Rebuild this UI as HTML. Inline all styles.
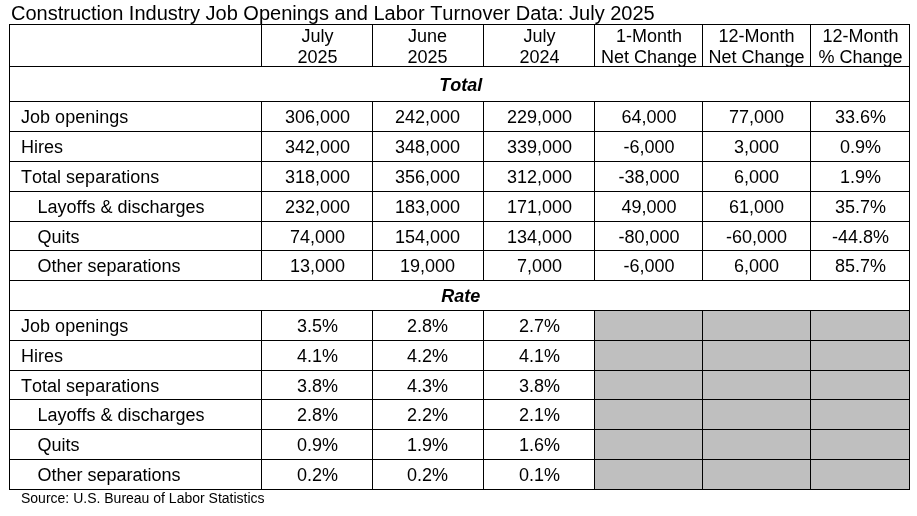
<!DOCTYPE html>
<html><head><meta charset="utf-8"><style>
html,body{margin:0;padding:0;background:#fff;}
body{width:917px;height:516px;position:relative;overflow:hidden;font-family:"Liberation Sans",sans-serif;color:#000;font-kerning:none;will-change:transform;}
.l{position:absolute;background:#000;}
.g{position:absolute;background:#bfbfbf;}
.c{position:absolute;display:flex;align-items:center;justify-content:center;font-size:18px;line-height:21px;white-space:nowrap;text-align:center;box-sizing:border-box;}
.bi{font-weight:bold;font-style:italic;}
.t{position:absolute;left:11px;top:0.5px;font-size:20px;line-height:24px;white-space:nowrap;}
.s{position:absolute;left:21px;top:489px;font-size:14px;line-height:18px;white-space:nowrap;}
</style></head><body>
<div class="t">Construction Industry Job Openings and Labor Turnover Data: July 2025</div>
<div class="g" style="left:594px;top:310px;width:315px;height:30px"></div>
<div class="g" style="left:594px;top:340px;width:315px;height:30px"></div>
<div class="g" style="left:594px;top:370px;width:315px;height:29px"></div>
<div class="g" style="left:594px;top:399px;width:315px;height:30px"></div>
<div class="g" style="left:594px;top:429px;width:315px;height:30px"></div>
<div class="g" style="left:594px;top:459px;width:315px;height:30px"></div>
<div class="l" style="left:9px;top:24px;width:901px;height:1px"></div>
<div class="l" style="left:9px;top:66px;width:901px;height:1px"></div>
<div class="l" style="left:9px;top:101px;width:901px;height:1px"></div>
<div class="l" style="left:9px;top:131px;width:901px;height:1px"></div>
<div class="l" style="left:9px;top:161px;width:901px;height:1px"></div>
<div class="l" style="left:9px;top:191px;width:901px;height:1px"></div>
<div class="l" style="left:9px;top:221px;width:901px;height:1px"></div>
<div class="l" style="left:9px;top:250px;width:901px;height:1px"></div>
<div class="l" style="left:9px;top:280px;width:901px;height:1px"></div>
<div class="l" style="left:9px;top:310px;width:901px;height:1px"></div>
<div class="l" style="left:9px;top:340px;width:901px;height:1px"></div>
<div class="l" style="left:9px;top:370px;width:901px;height:1px"></div>
<div class="l" style="left:9px;top:399px;width:901px;height:1px"></div>
<div class="l" style="left:9px;top:429px;width:901px;height:1px"></div>
<div class="l" style="left:9px;top:459px;width:901px;height:1px"></div>
<div class="l" style="left:9px;top:489px;width:901px;height:1px"></div>
<div class="l" style="left:9px;top:24px;width:1px;height:466px"></div>
<div class="l" style="left:909px;top:24px;width:1px;height:466px"></div>
<div class="l" style="left:261px;top:24px;width:1px;height:43px"></div>
<div class="l" style="left:261px;top:101px;width:1px;height:180px"></div>
<div class="l" style="left:261px;top:310px;width:1px;height:180px"></div>
<div class="l" style="left:372px;top:24px;width:1px;height:43px"></div>
<div class="l" style="left:372px;top:101px;width:1px;height:180px"></div>
<div class="l" style="left:372px;top:310px;width:1px;height:180px"></div>
<div class="l" style="left:483px;top:24px;width:1px;height:43px"></div>
<div class="l" style="left:483px;top:101px;width:1px;height:180px"></div>
<div class="l" style="left:483px;top:310px;width:1px;height:180px"></div>
<div class="l" style="left:594px;top:24px;width:1px;height:43px"></div>
<div class="l" style="left:594px;top:101px;width:1px;height:180px"></div>
<div class="l" style="left:594px;top:310px;width:1px;height:180px"></div>
<div class="l" style="left:702px;top:24px;width:1px;height:43px"></div>
<div class="l" style="left:702px;top:101px;width:1px;height:180px"></div>
<div class="l" style="left:702px;top:310px;width:1px;height:180px"></div>
<div class="l" style="left:810px;top:24px;width:1px;height:43px"></div>
<div class="l" style="left:810px;top:101px;width:1px;height:180px"></div>
<div class="l" style="left:810px;top:310px;width:1px;height:180px"></div>
<div class="c h" style="left:262.5px;top:26px;width:110px;height:41px;">July<br>2025</div>
<div class="c h" style="left:372.6px;top:26px;width:110px;height:41px;">June<br>2025</div>
<div class="c h" style="left:484.5px;top:26px;width:110px;height:41px;">July<br>2024</div>
<div class="c h" style="left:595.5px;top:26px;width:107px;height:41px;">1-Month<br>Net Change</div>
<div class="c h" style="left:703.0px;top:26px;width:107px;height:41px;">12-Month<br>Net Change</div>
<div class="c h" style="left:811.5px;top:26px;width:98px;height:41px;">12-Month<br>% Change</div>
<div class="c bi" style="left:11.3px;top:68px;width:899px;height:34px;">Total</div>
<div class="c bi" style="left:11.3px;top:282px;width:899px;height:29px;">Rate</div>
<div class="c " style="left:10.5px;top:103px;width:251px;height:29px;padding-left:10.6px;justify-content:flex-start;">Job openings</div>
<div class="c " style="left:262.5px;top:103px;width:110px;height:29px;">306,000</div>
<div class="c " style="left:372.6px;top:103px;width:110px;height:29px;">242,000</div>
<div class="c " style="left:484.5px;top:103px;width:110px;height:29px;">229,000</div>
<div class="c " style="left:595.5px;top:103px;width:107px;height:29px;">64,000</div>
<div class="c " style="left:703.0px;top:103px;width:107px;height:29px;">77,000</div>
<div class="c " style="left:811.5px;top:103px;width:98px;height:29px;">33.6%</div>
<div class="c " style="left:10.5px;top:133px;width:251px;height:29px;padding-left:10.6px;justify-content:flex-start;">Hires</div>
<div class="c " style="left:262.5px;top:133px;width:110px;height:29px;">342,000</div>
<div class="c " style="left:372.6px;top:133px;width:110px;height:29px;">348,000</div>
<div class="c " style="left:484.5px;top:133px;width:110px;height:29px;">339,000</div>
<div class="c " style="left:595.5px;top:133px;width:107px;height:29px;">-6,000</div>
<div class="c " style="left:703.0px;top:133px;width:107px;height:29px;">3,000</div>
<div class="c " style="left:811.5px;top:133px;width:98px;height:29px;">0.9%</div>
<div class="c " style="left:10.5px;top:163px;width:251px;height:29px;padding-left:10.6px;justify-content:flex-start;">Total separations</div>
<div class="c " style="left:262.5px;top:163px;width:110px;height:29px;">318,000</div>
<div class="c " style="left:372.6px;top:163px;width:110px;height:29px;">356,000</div>
<div class="c " style="left:484.5px;top:163px;width:110px;height:29px;">312,000</div>
<div class="c " style="left:595.5px;top:163px;width:107px;height:29px;">-38,000</div>
<div class="c " style="left:703.0px;top:163px;width:107px;height:29px;">6,000</div>
<div class="c " style="left:811.5px;top:163px;width:98px;height:29px;">1.9%</div>
<div class="c " style="left:10.5px;top:193px;width:251px;height:29px;padding-left:27.0px;justify-content:flex-start;">Layoffs &amp; discharges</div>
<div class="c " style="left:262.5px;top:193px;width:110px;height:29px;">232,000</div>
<div class="c " style="left:372.6px;top:193px;width:110px;height:29px;">183,000</div>
<div class="c " style="left:484.5px;top:193px;width:110px;height:29px;">171,000</div>
<div class="c " style="left:595.5px;top:193px;width:107px;height:29px;">49,000</div>
<div class="c " style="left:703.0px;top:193px;width:107px;height:29px;">61,000</div>
<div class="c " style="left:811.5px;top:193px;width:98px;height:29px;">35.7%</div>
<div class="c " style="left:10.5px;top:223px;width:251px;height:28px;padding-left:27.0px;justify-content:flex-start;">Quits</div>
<div class="c " style="left:262.5px;top:223px;width:110px;height:28px;">74,000</div>
<div class="c " style="left:372.6px;top:223px;width:110px;height:28px;">154,000</div>
<div class="c " style="left:484.5px;top:223px;width:110px;height:28px;">134,000</div>
<div class="c " style="left:595.5px;top:223px;width:107px;height:28px;">-80,000</div>
<div class="c " style="left:703.0px;top:223px;width:107px;height:28px;">-60,000</div>
<div class="c " style="left:811.5px;top:223px;width:98px;height:28px;">-44.8%</div>
<div class="c " style="left:10.5px;top:252px;width:251px;height:29px;padding-left:27.0px;justify-content:flex-start;">Other separations</div>
<div class="c " style="left:262.5px;top:252px;width:110px;height:29px;">13,000</div>
<div class="c " style="left:372.6px;top:252px;width:110px;height:29px;">19,000</div>
<div class="c " style="left:484.5px;top:252px;width:110px;height:29px;">7,000</div>
<div class="c " style="left:595.5px;top:252px;width:107px;height:29px;">-6,000</div>
<div class="c " style="left:703.0px;top:252px;width:107px;height:29px;">6,000</div>
<div class="c " style="left:811.5px;top:252px;width:98px;height:29px;">85.7%</div>
<div class="c " style="left:10.5px;top:312px;width:251px;height:29px;padding-left:10.6px;justify-content:flex-start;">Job openings</div>
<div class="c " style="left:262.5px;top:312px;width:110px;height:29px;">3.5%</div>
<div class="c " style="left:372.6px;top:312px;width:110px;height:29px;">2.8%</div>
<div class="c " style="left:484.5px;top:312px;width:110px;height:29px;">2.7%</div>
<div class="c " style="left:10.5px;top:342px;width:251px;height:29px;padding-left:10.6px;justify-content:flex-start;">Hires</div>
<div class="c " style="left:262.5px;top:342px;width:110px;height:29px;">4.1%</div>
<div class="c " style="left:372.6px;top:342px;width:110px;height:29px;">4.2%</div>
<div class="c " style="left:484.5px;top:342px;width:110px;height:29px;">4.1%</div>
<div class="c " style="left:10.5px;top:372px;width:251px;height:28px;padding-left:10.6px;justify-content:flex-start;">Total separations</div>
<div class="c " style="left:262.5px;top:372px;width:110px;height:28px;">3.8%</div>
<div class="c " style="left:372.6px;top:372px;width:110px;height:28px;">4.3%</div>
<div class="c " style="left:484.5px;top:372px;width:110px;height:28px;">3.8%</div>
<div class="c " style="left:10.5px;top:401px;width:251px;height:29px;padding-left:27.0px;justify-content:flex-start;">Layoffs &amp; discharges</div>
<div class="c " style="left:262.5px;top:401px;width:110px;height:29px;">2.8%</div>
<div class="c " style="left:372.6px;top:401px;width:110px;height:29px;">2.2%</div>
<div class="c " style="left:484.5px;top:401px;width:110px;height:29px;">2.1%</div>
<div class="c " style="left:10.5px;top:431px;width:251px;height:29px;padding-left:27.0px;justify-content:flex-start;">Quits</div>
<div class="c " style="left:262.5px;top:431px;width:110px;height:29px;">0.9%</div>
<div class="c " style="left:372.6px;top:431px;width:110px;height:29px;">1.9%</div>
<div class="c " style="left:484.5px;top:431px;width:110px;height:29px;">1.6%</div>
<div class="c " style="left:10.5px;top:461px;width:251px;height:29px;padding-left:27.0px;justify-content:flex-start;">Other separations</div>
<div class="c " style="left:262.5px;top:461px;width:110px;height:29px;">0.2%</div>
<div class="c " style="left:372.6px;top:461px;width:110px;height:29px;">0.2%</div>
<div class="c " style="left:484.5px;top:461px;width:110px;height:29px;">0.1%</div>
<div class="s">Source: U.S. Bureau of Labor Statistics</div>
</body></html>
